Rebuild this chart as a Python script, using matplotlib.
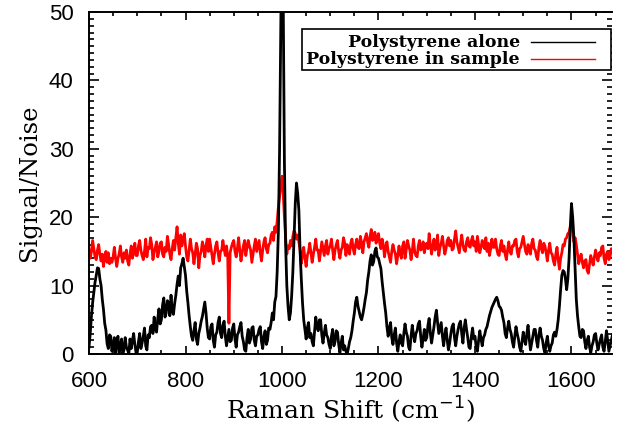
import numpy as np
import matplotlib.pyplot as plt
from matplotlib.patches import Rectangle
from matplotlib.lines import Line2D
from matplotlib.ticker import MultipleLocator

# Raman shift grid (cm^-1), one sample every 2.5 cm^-1 starting at 600
shift_start = 600
shift_step = 2.5

# Signal/Noise, polystyrene alone (black), 20 samples per row = 50 cm^-1
alone = [
    1.0, 3.0, 5.5, 7.5, 9.0, 10.5, 11.5, 12.6, 12.5, 11.0, 10.0, 8.0, 6.5, 4.5, 3.5, 1.5, 0.8, 2.8, 2.6, 0.4,
    1.2, 2.4, 0.0, 1.6, 2.6, 0.2, 1.0, 2.2, 0.0, 0.6, 2.4, 1.0, 0.6, 0.0, 2.2, 0.8, 2.0, 3.0, 1.4, 0.2,
    0.2, 1.8, 3.0, 0.8, 1.6, 2.6, 3.8, 1.2, 0.6, 2.8, 2.4, 4.0, 4.2, 3.0, 5.4, 3.6, 3.2, 5.2, 6.6, 4.4,
    5.0, 7.2, 8.2, 5.4, 6.0, 7.8, 7.4, 5.6, 8.6, 6.2, 5.8, 7.4, 8.6, 10.2, 11.4, 10.0, 12.6, 13.2, 14.0, 12.8,
    11.5, 9.2, 7.5, 5.6, 4.0, 2.6, 2.0, 3.4, 4.6, 2.2, 1.4, 3.0, 3.8, 4.8, 5.5, 6.6, 7.6, 6.0, 3.8, 2.4,
    2.2, 4.0, 4.4, 2.0, 1.0, 2.8, 3.2, 4.6, 5.4, 3.0, 2.4, 4.2, 4.8, 2.6, 1.2, 2.4, 3.6, 1.8, 2.0, 3.8,
    4.4, 2.2, 1.0, 2.8, 3.2, 4.0, 4.6, 2.6, 1.8, 0.6, 0.4, 2.4, 3.6, 1.6, 2.2, 3.8, 4.0, 2.0, 1.2, 2.6,
    2.8, 3.6, 4.0, 1.8, 0.8, 2.6, 3.4, 1.4, 2.0, 3.8, 3.6, 4.6, 6.0, 5.0, 7.6, 8.4, 12.0, 18.0, 30.0, 48.0,
    65.0, 52.0, 28.0, 16.0, 10.0, 7.0, 5.0, 6.0, 8.5, 12.0, 17.0, 22.0, 25.0, 23.5, 21.0, 15.0, 11.0, 7.5, 5.0, 3.6,
    2.2, 3.8, 4.6, 2.4, 3.0, 1.8, 1.2, 3.4, 5.4, 4.0, 3.4, 5.0, 5.0, 2.8, 1.6, 3.0, 4.2, 2.8, 2.4, 1.4,
    0.8, 2.6, 3.6, 1.2, 1.8, 3.4, 3.2, 1.4, 0.2, 1.6, 2.6, 0.6, 1.2, 0.4, 0.0, 0.8, 1.8, 2.4, 3.4, 4.8,
    6.0, 7.6, 8.3, 7.0, 6.2, 5.4, 5.0, 5.8, 6.8, 8.0, 9.0, 10.8, 12.0, 13.6, 14.5, 13.0, 13.5, 15.0, 15.5, 14.2,
    14.0, 13.2, 12.5, 10.6, 9.0, 7.4, 6.0, 4.0, 2.6, 3.8, 4.6, 2.4, 1.4, 2.8, 3.8, 1.6, 0.4, 1.8, 2.8, 1.6,
    1.2, 3.0, 4.4, 3.2, 2.6, 1.0, 0.6, 2.6, 4.2, 2.8, 1.8, 3.0, 3.4, 4.4, 4.8, 2.6, 1.0, 2.2, 3.6, 2.0,
    2.4, 4.2, 5.2, 3.0, 1.6, 2.8, 4.0, 5.4, 6.4, 4.6, 3.0, 3.8, 4.6, 2.6, 1.2, 2.8, 3.8, 2.0, 0.6, 1.6,
    3.0, 4.0, 4.4, 2.4, 1.2, 2.6, 3.6, 4.4, 4.8, 3.0, 1.6, 3.8, 5.0, 3.6, 2.4, 1.0, 0.8, 2.6, 3.8, 2.2,
    2.6, 1.0, 0.4, 2.0, 3.4, 2.2, 1.2, 2.4, 2.8, 3.6, 4.0, 4.8, 5.6, 6.2, 6.8, 7.2, 7.6, 8.0, 8.3, 7.8,
    7.0, 6.8, 6.4, 5.4, 4.6, 3.0, 2.4, 3.8, 4.8, 3.6, 3.0, 1.8, 1.0, 2.6, 4.0, 3.0, 2.2, 1.0, 0.4, 1.8,
    3.2, 2.0, 1.4, 3.0, 4.2, 2.2, 0.6, 1.6, 2.6, 3.6, 3.6, 2.0, 1.0, 2.8, 3.8, 2.6, 2.0, 0.8, 0.2, 1.6,
    2.6, 1.2, 0.4, 1.2, 1.6, 2.8, 3.2, 2.6, 3.6, 5.0, 7.0, 9.4, 11.5, 12.2, 12.0, 11.0, 9.4, 11.0, 14.0, 18.5,
    22.0, 20.0, 17.0, 12.5, 8.0, 5.6, 4.0, 2.6, 2.4, 3.6, 3.4, 1.8, 0.8, 2.0, 2.6, 1.0, 0.2, 1.2, 1.8, 2.8,
    3.0, 1.6, 0.6, 1.4, 2.2, 2.8, 1.0, 0.4, 1.8, 3.4, 2.0, 0.4, 1.2, 2.0, 2.8,
]

# Signal/Noise, polystyrene in sample (red)
in_sample = [
    15.2, 14.0, 15.0, 16.6, 15.4, 14.2, 13.8, 15.2, 16.0, 14.6, 13.6, 14.6, 12.8, 14.4, 15.0, 13.4, 14.8, 13.2, 14.0, 13.4,
    14.2, 15.6, 14.0, 12.8, 14.0, 14.6, 15.8, 14.2, 13.4, 14.8, 14.0, 15.2, 13.6, 13.0, 14.6, 15.8, 14.0, 15.0, 16.2, 14.4,
    14.4, 15.8, 16.6, 15.2, 14.4, 13.8, 15.0, 16.8, 14.2, 15.6, 15.4, 17.0, 16.0, 13.8, 14.8, 15.6, 16.4, 14.2, 15.0, 16.2,
    16.4, 14.6, 14.2, 15.6, 15.0, 17.2, 16.0, 14.6, 13.8, 15.4, 16.6, 15.2, 17.0, 18.6, 16.2, 14.6, 17.4, 15.8, 16.8, 17.6,
    15.8, 14.2, 13.6, 15.2, 16.8, 15.4, 14.8, 13.2, 14.6, 16.2, 15.4, 12.6, 14.4, 15.0, 16.4, 15.6, 14.2, 15.8, 16.8, 15.0,
    16.8, 15.6, 14.4, 13.2, 14.6, 15.8, 16.4, 14.8, 13.6, 15.0, 15.2, 16.6, 15.4, 14.4, 15.8, 14.2, 4.5, 14.8, 15.6, 16.2,
    16.6, 15.0, 14.2, 15.4, 17.0, 15.2, 13.6, 14.8, 15.8, 16.6, 14.4, 15.6, 16.6, 15.8, 15.2, 13.4, 14.6, 15.8, 16.8, 15.0,
    15.8, 16.6, 14.8, 13.6, 15.2, 16.4, 17.0, 15.4, 14.8, 16.0, 16.2, 17.4, 17.8, 16.6, 18.6, 17.8, 19.4, 21.5, 23.0, 24.6,
    26.0, 23.5, 20.0, 17.0, 14.6, 15.8, 15.4, 16.6, 15.8, 17.2, 18.0, 17.6, 16.8, 17.4, 16.4, 15.2, 13.2, 14.6, 15.6, 14.0,
    12.8, 14.4, 15.0, 16.2, 14.8, 13.4, 14.6, 15.6, 16.8, 15.2, 15.2, 13.6, 15.0, 16.4, 15.4, 14.4, 15.8, 16.6, 14.6, 15.4,
    15.8, 16.8, 15.2, 13.8, 15.2, 16.0, 16.6, 15.0, 14.0, 15.2, 15.6, 17.0, 16.2, 14.4, 16.0, 15.2, 14.6, 16.2, 16.8, 15.4,
    14.6, 16.0, 16.8, 15.6, 15.4, 17.2, 16.2, 14.8, 16.4, 17.0, 17.6, 16.4, 15.6, 17.2, 18.2, 16.6, 16.8, 17.8, 16.2, 17.0,
    17.6, 16.2, 15.4, 16.8, 16.0, 14.2, 15.6, 16.4, 15.0, 14.2, 13.4, 15.0, 16.0, 15.2, 14.6, 13.2, 14.4, 15.8, 14.6, 14.0,
    15.8, 16.4, 14.0, 15.2, 16.6, 15.8, 15.2, 13.8, 15.0, 16.8, 15.0, 14.4, 14.2, 15.8, 16.6, 15.2, 15.4, 16.4, 14.8, 15.8,
    16.2, 15.4, 17.6, 16.0, 14.6, 15.8, 16.8, 15.2, 15.6, 17.4, 14.4, 15.6, 16.2, 17.2, 15.8, 14.6, 15.4, 16.6, 17.0, 15.8,
    16.6, 15.2, 15.4, 16.8, 18.0, 16.4, 15.6, 14.8, 16.2, 17.4, 16.0, 15.2, 15.0, 16.4, 17.0, 15.8, 15.6, 16.6, 17.2, 15.8,
    16.4, 15.0, 17.2, 16.0, 14.8, 15.6, 16.6, 15.8, 15.4, 17.0, 15.0, 16.2, 14.4, 15.4, 16.8, 15.6, 15.6, 16.8, 15.4, 14.6,
    14.4, 15.8, 16.6, 15.0, 15.8, 14.6, 13.8, 15.2, 16.4, 15.0, 14.6, 15.8, 15.8, 16.6, 16.8, 15.0, 14.2, 15.4, 15.6, 16.4,
    17.2, 16.0, 15.0, 14.6, 16.0, 15.2, 14.6, 16.2, 16.8, 15.4, 15.2, 14.2, 13.8, 15.6, 16.6, 15.4, 14.8, 16.2, 15.8, 14.8,
    13.6, 15.2, 16.2, 14.8, 14.6, 13.6, 13.0, 14.6, 15.6, 13.8, 12.4, 14.0, 14.8, 16.0, 15.8, 16.8, 17.0, 17.6, 17.8, 18.6,
    19.0, 17.8, 16.4, 17.0, 16.0, 14.6, 13.2, 14.0, 14.6, 13.4, 12.6, 13.6, 13.8, 12.2, 11.8, 13.2, 14.4, 13.6, 13.0, 14.2,
    15.2, 14.2, 13.6, 14.8, 14.4, 15.6, 15.8, 14.0, 13.2, 14.6, 15.0, 13.8, 14.2, 15.4, 15.0,
]

legend_labels = ['Polystyrene alone', 'Polystyrene in sample']
legend_colors = ['black', '#ff0000']

shift = shift_start + shift_step * np.arange(len(alone))

serif = ['DejaVu Serif']
fig = plt.figure(figsize=(6.19, 4.25), dpi=100)
ax = fig.add_axes([0.1438, 0.167, 0.8449, 0.8048])

ax.plot(shift, in_sample, color='#ff0000', lw=2.0, zorder=2)
ax.plot(shift, alone, color='black', lw=2.0, zorder=3)

ax.set_xlim(600, 1684)
ax.set_ylim(0, 50)
ax.xaxis.set_major_locator(MultipleLocator(200))
ax.xaxis.set_minor_locator(MultipleLocator(50))
ax.yaxis.set_major_locator(MultipleLocator(10))
ax.yaxis.set_minor_locator(MultipleLocator(1))

ax.tick_params(which='both', direction='in', top=True, right=True,
               width=1.2, colors='black')
ax.tick_params(axis='x', which='major', length=6, pad=12)
ax.tick_params(axis='x', which='minor', length=3)
ax.tick_params(axis='y', which='major', length=7, pad=11)
ax.tick_params(axis='y', which='minor', length=3.5)
for lab in ax.get_xticklabels() + ax.get_yticklabels():
    lab.set_fontfamily('Liberation Sans')
    lab.set_fontsize(16)

for side in ['left', 'bottom', 'top']:
    ax.spines[side].set_linewidth(1.4)
ax.spines['right'].set_visible(False)

ax.set_xlabel('Raman Shift (cm$^{-1}$)', family=serif, fontsize=18, labelpad=2)
ax.set_ylabel('Signal/Noise', family=serif, fontsize=17.5, labelpad=6)

# legend box drawn like the IDL one: text right-aligned, line sample on the right
box = Rectangle((0.407, 0.830), 0.591, 0.120, transform=ax.transAxes,
                facecolor='white', edgecolor='black', lw=1.2, zorder=5)
ax.add_patch(box)
for i, (lab, col) in enumerate(zip(legend_labels, legend_colors)):
    yy = 0.912 - i * 0.05
    ax.text(0.824, yy, lab, transform=ax.transAxes, ha='right', va='center',
            family=serif, fontsize=12.5, fontweight='bold', zorder=6)
    ax.add_line(Line2D([0.845, 0.967], [yy, yy], transform=ax.transAxes,
                       color=col, lw=1.0, zorder=6))

fig.savefig('out.png', dpi=100)
